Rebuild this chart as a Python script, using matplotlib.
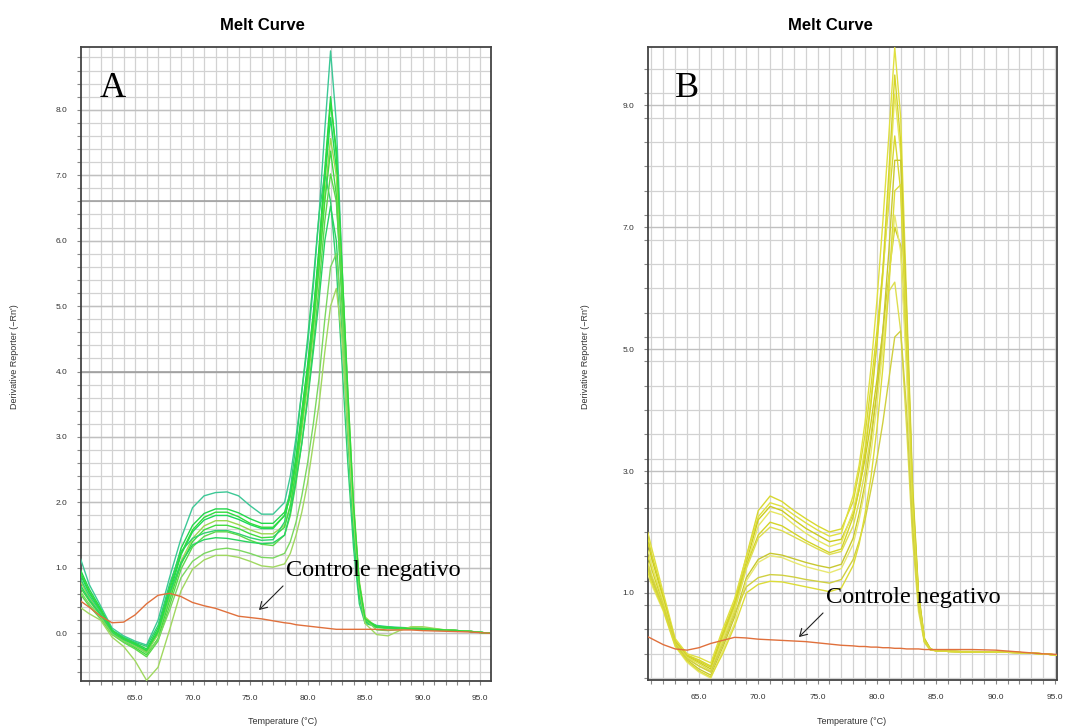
import matplotlib
matplotlib.use("Agg")
import matplotlib.pyplot as plt
import numpy as np

# ---------------- data: panel A ----------------
TA = [60.2, 61, 62, 63, 64, 65, 66, 67, 68, 69, 70, 71, 72, 73, 74, 75, 76, 77,
      78, 78.5, 79, 79.5, 80, 80.5, 81, 81.5, 82, 82.5, 83, 83.5, 84, 84.5, 85,
      86, 87, 88, 89, 90, 92, 94, 95.8]
A1 = [1.17, 0.75, 0.42, 0.08, -0.04, -0.12, -0.18, 0.2, 0.85, 1.45, 1.92, 2.1, 2.15, 2.16, 2.1, 1.95, 1.82, 1.82,
      2.0, 2.4, 3.0, 3.7, 4.4, 5.3, 6.4, 7.7, 8.9, 7.8, 5.6, 3.6, 1.8, 0.6, 0.2,
      0.12, 0.1, 0.09, 0.08, 0.07, 0.05, 0.03, 0.0]
A2 = [0.99, 0.68, 0.38, 0.05, -0.07, -0.15, -0.24, 0.08, 0.7, 1.3, 1.65, 1.83, 1.9, 1.9, 1.84, 1.75, 1.68, 1.68,
      1.85, 2.15, 2.7, 3.4, 4.1, 4.9, 5.9, 7.1, 8.2, 7.3, 5.4, 3.5, 1.8, 0.65, 0.2,
      0.11, 0.09, 0.08, 0.08, 0.07, 0.05, 0.03, 0.0]
A3 = [0.91, 0.62, 0.34, 0.03, -0.09, -0.18, -0.3, 0.0, 0.6, 1.2, 1.55, 1.73, 1.8, 1.8, 1.74, 1.66, 1.6, 1.6,
      1.8, 2.1, 2.6, 3.3, 4.0, 4.8, 5.8, 6.9, 7.88, 7.1, 5.3, 3.4, 1.7, 0.6, 0.18,
      0.1, 0.08, 0.08, 0.07, 0.06, 0.05, 0.03, 0.0]
A4 = [0.81, 0.55, 0.3, 0.02, -0.1, -0.2, -0.28, -0.02, 0.55, 1.1, 1.45, 1.64, 1.72, 1.72, 1.66, 1.58, 1.52, 1.52,
      1.65, 1.95, 2.45, 3.1, 3.8, 4.6, 5.6, 6.7, 7.56, 7.0, 5.5, 3.7, 2.0, 0.8, 0.25,
      0.09, 0.08, 0.08, 0.07, 0.06, 0.05, 0.03, 0.0]
A5 = [0.71, 0.5, 0.27, 0.0, -0.12, -0.22, -0.33, -0.08, 0.5, 1.05, 1.4, 1.58, 1.65, 1.65, 1.6, 1.52, 1.46, 1.47,
      1.62, 1.95, 2.5, 3.2, 3.9, 4.7, 5.6, 6.6, 7.37, 6.7, 5.0, 3.2, 1.6, 0.6, 0.18,
      0.09, 0.08, 0.07, 0.07, 0.06, 0.05, 0.03, 0.0]
A6 = [0.85, 0.58, 0.33, 0.04, -0.06, -0.14, -0.2, 0.12, 0.75, 1.25, 1.45, 1.53, 1.57, 1.57, 1.52, 1.46, 1.42, 1.43,
      1.7, 2.2, 2.9, 3.7, 4.5, 5.4, 6.4, 7.04, 6.6, 5.6, 4.1, 2.6, 1.3, 0.45, 0.15,
      0.1, 0.09, 0.08, 0.07, 0.06, 0.05, 0.03, 0.0]
A7 = [0.61, 0.42, 0.22, -0.02, -0.14, -0.24, -0.36, -0.12, 0.42, 0.98, 1.32, 1.48, 1.55, 1.55, 1.5, 1.42, 1.36, 1.34,
      1.5, 1.8, 2.3, 2.9, 3.6, 4.4, 5.3, 6.3, 7.02, 6.6, 5.2, 3.5, 1.9, 0.75, 0.22,
      0.1, 0.08, 0.07, 0.07, 0.06, 0.05, 0.03, 0.0]
A8 = [0.75, 0.52, 0.29, 0.01, -0.1, -0.17, -0.26, 0.02, 0.6, 1.08, 1.35, 1.43, 1.46, 1.45, 1.42, 1.39, 1.37, 1.38,
      1.5, 1.85, 2.35, 2.9, 3.55, 4.3, 5.1, 6.0, 6.53, 6.0, 4.6, 3.0, 1.5, 0.55, 0.18,
      0.09, 0.08, 0.07, 0.07, 0.06, 0.05, 0.03, 0.0]
A9 = [0.65, 0.45, 0.25, -0.01, -0.12, -0.2, -0.3, -0.1, 0.35, 0.85, 1.1, 1.22, 1.28, 1.3, 1.27, 1.22, 1.16, 1.15,
      1.22, 1.4, 1.7, 2.1, 2.6, 3.2, 3.9, 4.8, 5.6, 5.8, 4.8, 3.3, 1.8, 0.7, 0.22,
      0.05, 0.04, 0.06, 0.08, 0.08, 0.05, 0.03, 0.0]
A10 = [0.4, 0.3, 0.2, -0.06, -0.2, -0.42, -0.72, -0.52, 0.05, 0.65, 0.98, 1.12, 1.19, 1.19, 1.16, 1.1, 1.03, 1.01,
       1.06, 1.22, 1.5, 1.85, 2.3, 2.9, 3.5, 4.3, 5.0, 5.27, 4.5, 3.1, 1.75, 0.7, 0.15,
       -0.02, -0.04, 0.04, 0.1, 0.1, 0.05, 0.03, 0.0]
A11 = [0.95, 0.64, 0.36, 0.04, -0.08, -0.16, -0.27, 0.04, 0.66, 1.22, 1.58, 1.77, 1.85, 1.85, 1.78, 1.68, 1.62, 1.62,
       1.8, 2.1, 2.65, 3.35, 4.05, 4.85, 5.85, 7.0, 8.1, 7.4, 5.6, 3.7, 1.95, 0.75, 0.22,
       0.1, 0.09, 0.08, 0.07, 0.07, 0.05, 0.03, 0.0]
A_NEG = [0.5, 0.4, 0.26, 0.16, 0.17, 0.28, 0.45, 0.58, 0.61, 0.56, 0.47, 0.42, 0.38, 0.32, 0.26, 0.24, 0.22, 0.19,
         0.16, 0.15, 0.13, 0.12, 0.11, 0.1, 0.09, 0.08, 0.07, 0.06, 0.06, 0.06, 0.06, 0.06, 0.06,
         0.06, 0.05, 0.05, 0.05, 0.04, 0.03, 0.02, 0.0]
A_COLORS = ['#3cc896', '#22d84a', '#1ed85a', '#9ad850', '#40dc40', '#30d070',
            '#5ad84a', '#28d460', '#7ad860', '#a0d860', '#2fdc3c']

# ---------------- data: panel B ----------------
TB = [60.7, 61, 62, 63, 64, 65, 66, 67, 68, 69, 70, 71, 72, 73, 74, 75, 76, 77,
      78, 78.5, 79, 79.5, 80, 80.5, 81, 81.5, 82, 82.5, 83, 83.5, 84, 84.5, 85,
      86, 88, 90, 92, 94, 95.15]
B1 = [1.9, 1.65, 0.95, 0.22, -0.02, -0.1, -0.2, 0.35, 0.85, 1.6, 2.35, 2.59, 2.5, 2.35, 2.22, 2.1, 2.0, 2.05,
      2.5, 3.0, 3.6, 4.4, 5.3, 6.3, 7.4, 8.5, 7.6, 5.0, 2.4, 0.85, 0.2, 0.07, 0.05,
      0.04, 0.03, 0.03, 0.02, 0.0, -0.02]
B2 = [1.99, 1.75, 1.0, 0.25, 0.0, -0.06, -0.15, 0.4, 0.9, 1.6, 2.25, 2.48, 2.42, 2.28, 2.15, 2.03, 1.93, 1.98,
      2.6, 3.1, 3.8, 4.7, 5.8, 7.1, 8.5, 9.95, 8.8, 5.8, 2.8, 1.0, 0.25, 0.08, 0.05,
      0.04, 0.04, 0.03, 0.02, 0.0, -0.02]
B3 = [1.82, 1.58, 0.9, 0.2, -0.04, -0.14, -0.25, 0.3, 0.8, 1.5, 2.2, 2.42, 2.35, 2.2, 2.06, 1.95, 1.84, 1.88,
      2.3, 2.7, 3.2, 3.8, 4.5, 5.3, 6.2, 7.0, 6.7, 4.8, 2.5, 0.9, 0.22, 0.07, 0.05,
      0.04, 0.03, 0.03, 0.02, 0.0, -0.02]
B4 = [1.7, 1.48, 0.85, 0.18, -0.07, -0.2, -0.3, 0.25, 0.75, 1.45, 2.1, 2.34, 2.28, 2.12, 1.98, 1.86, 1.76, 1.82,
      2.35, 2.8, 3.4, 4.2, 5.1, 6.2, 7.6, 9.18, 8.2, 5.4, 2.6, 0.95, 0.24, 0.08, 0.05,
      0.04, 0.03, 0.03, 0.02, 0.0, -0.02]
B5 = [1.6, 1.4, 0.8, 0.2, -0.03, -0.12, -0.22, 0.3, 0.8, 1.45, 1.95, 2.16, 2.1, 1.98, 1.86, 1.76, 1.66, 1.72,
      2.25, 2.7, 3.3, 4.1, 5.1, 6.3, 7.9, 9.5, 8.4, 5.5, 2.6, 0.95, 0.24, 0.08, 0.05,
      0.04, 0.03, 0.03, 0.02, 0.0, -0.02]
B6 = [1.5, 1.3, 0.78, 0.17, -0.06, -0.16, -0.28, 0.2, 0.7, 1.4, 1.9, 2.08, 2.02, 1.92, 1.82, 1.72, 1.63, 1.68,
      2.1, 2.5, 3.0, 3.6, 4.3, 5.1, 5.95, 6.1, 5.3, 3.7, 1.9, 0.7, 0.18, 0.06, 0.05,
      0.04, 0.03, 0.03, 0.02, 0.0, -0.02]
B7 = [1.4, 1.22, 0.74, 0.15, -0.1, -0.25, -0.35, 0.1, 0.6, 1.25, 1.55, 1.65, 1.62, 1.56, 1.5, 1.45, 1.41, 1.47,
      1.9, 2.3, 2.8, 3.5, 4.3, 5.3, 6.6, 8.1, 8.1, 5.6, 2.7, 1.0, 0.25, 0.08, 0.05,
      0.04, 0.03, 0.03, 0.02, 0.0, -0.02]
B8 = [1.3, 1.14, 0.7, 0.12, -0.14, -0.3, -0.4, 0.05, 0.5, 1.2, 1.5, 1.61, 1.58, 1.5, 1.43, 1.38, 1.33, 1.4,
      1.8, 2.2, 2.7, 3.3, 4.1, 5.0, 6.1, 7.2, 6.6, 4.6, 2.3, 0.85, 0.2, 0.07, 0.05,
      0.04, 0.03, 0.03, 0.02, 0.0, -0.02]
B9 = [1.45, 1.26, 0.76, 0.16, -0.08, -0.2, -0.3, 0.15, 0.65, 1.1, 1.25, 1.3, 1.29, 1.26, 1.22, 1.19, 1.16, 1.22,
      1.55, 1.85, 2.2, 2.7, 3.2, 3.8, 4.5, 5.2, 5.3, 4.0, 2.1, 0.8, 0.2, 0.07, 0.05,
      0.04, 0.03, 0.03, 0.02, 0.0, -0.02]
B10 = [1.35, 1.18, 0.72, 0.13, -0.12, -0.28, -0.38, 0.0, 0.45, 1.0, 1.14, 1.19, 1.18, 1.14, 1.1, 1.06, 1.02, 1.08,
       1.45, 1.8, 2.3, 2.9, 3.7, 4.7, 6.0, 7.6, 7.7, 5.3, 2.5, 0.9, 0.22, 0.07, 0.05,
       0.04, 0.03, 0.03, 0.02, 0.0, -0.02]
B_NEG = [0.28, 0.25, 0.15, 0.08, 0.06, 0.1, 0.17, 0.22, 0.27, 0.26, 0.24, 0.23, 0.22, 0.21, 0.2, 0.18, 0.16, 0.14,
         0.13, 0.12, 0.12, 0.11, 0.11, 0.1, 0.1, 0.09, 0.09, 0.08, 0.08, 0.08, 0.07, 0.07, 0.07,
         0.07, 0.07, 0.06, 0.03, 0.0, -0.01]
B_COLORS = ['#d8d830', '#e0e040', '#cccc20', '#e6e660', '#d4d428',
            '#dede50', '#c8c830', '#e8e870', '#d0d040', '#dcdc38']

A_SERIES = [A1, A2, A3, A4, A5, A6, A7, A8, A9, A10, A11]
B_SERIES = [B1, B2, B3, B4, B5, B6, B7, B8, B9, B10]

A_YTICKS = [0.0, 1.0, 2.0, 3.0, 4.0, 5.0, 6.0, 7.0, 8.0]
B_YTICKS = [1.0, 3.0, 5.0, 7.0, 9.0]
X_TICKS = [65.0, 70.0, 75.0, 80.0, 85.0, 90.0, 95.0]

W, H = 1082, 727
fig = plt.figure(figsize=(W / 100, H / 100), dpi=100)
fig.patch.set_facecolor('white')

AX_FONT = ['Liberation Sans', 'DejaVu Sans']


def px(x, y):
    return x / W, 1 - y / H


def setup(ax, xlim, ylim, ytick_major, ystep, darker=()):
    ax.set_xlim(*xlim)
    ax.set_ylim(*ylim)
    xs = np.arange(np.ceil(xlim[0]), xlim[1], 1.0)
    ys = np.arange(np.ceil(ylim[0] / ystep) * ystep, ylim[1], ystep)
    for x in xs:
        ax.axvline(x, color='#d2d2d2', lw=0.9, zorder=0)
    for y in ys:
        ax.axhline(y, color='#d2d2d2', lw=0.9, zorder=0)
    for y in ytick_major:
        ax.axhline(y, color='#c0c0c0', lw=1.0, zorder=0)
    for y in darker:
        ax.axhline(y, color='#9a9a9a', lw=1.1, zorder=0)
    ax.set_xticks(X_TICKS)
    ax.set_xticklabels([f'{t:.1f}' for t in X_TICKS])
    ax.set_xticks(xs, minor=True)
    ax.set_yticks(ytick_major)
    ax.set_yticklabels([f'{t:.1f}' for t in ytick_major])
    ax.set_yticks(ys, minor=True)
    ax.tick_params(axis='both', which='both', direction='out', length=3,
                   width=0.8, color='#888888', labelsize=6, labelcolor='#333333', pad=7)
    for lab in ax.get_xticklabels() + ax.get_yticklabels():
        lab.set_family(AX_FONT)
    for s in ax.spines.values():
        s.set_color('#444444')
        s.set_linewidth(1.3)


# ---------------- panel A ----------------
axA = fig.add_axes([81 / W, 1 - 681 / H, 410 / W, 634 / H])
setup(axA, (60.3, 95.95), (-0.73, 8.96), A_YTICKS, 0.2, darker=(6.6, 4.0))
for ys, c in zip(A_SERIES, A_COLORS):
    axA.plot(TA, ys, color=c, lw=1.0, zorder=3, solid_joinstyle='round')
axA.plot(TA, A_NEG, color='#e0703c', lw=1.0, zorder=4)

# ---------------- panel B ----------------
axB = fig.add_axes([648 / W, 1 - 680 / H, 409 / W, 633 / H])
setup(axB, (60.71, 95.17), (-0.43, 9.96), B_YTICKS, 0.4)
for ys, c in zip(B_SERIES, B_COLORS):
    axB.plot(TB, ys, color=c, lw=1.0, zorder=3, solid_joinstyle='round')
axB.plot(TB, B_NEG, color='#e0703c', lw=1.0, zorder=4)

# ---------------- text ----------------
for cx in (262, 830):
    fig.text(*px(cx, 25), 'Melt Curve', ha='center', va='center',
             fontsize=12, fontweight='bold', family=AX_FONT)
for cx in (283, 852):
    fig.text(*px(cx, 721), 'Temperature (°C)', ha='center', va='center',
             fontsize=6.5, color='#333333', family=AX_FONT)
for cx in (15, 585):
    fig.text(*px(cx, 357), "Derivative Reporter (\u2212Rn')", ha='center', va='center',
             rotation=90, fontsize=6.5, color='#333333', family=AX_FONT)

SERIF = ['Liberation Serif', 'DejaVu Serif']
fig.text(*px(100, 97), 'A', ha='left', va='baseline', fontsize=26, family=SERIF)
fig.text(*px(675, 97), 'B', ha='left', va='baseline', fontsize=26, family=SERIF)

fig.text(*px(286, 576), 'Controle negativo', ha='left', va='baseline',
         fontsize=17.5, family=SERIF, zorder=10)
fig.text(*px(826, 603), 'Controle negativo', ha='left', va='baseline',
         fontsize=17.5, family=SERIF, zorder=10)

for tail, head in (((285, 584), (257, 612)), ((825, 611), (797, 639))):
    fig.patches.append(matplotlib.patches.FancyArrowPatch(
        px(*tail), px(*head), transform=fig.transFigure,
        arrowstyle='->,head_length=5,head_width=3', color='#222222', lw=0.8,
        zorder=10))

fig.savefig('out.png', dpi=100, facecolor='white')
